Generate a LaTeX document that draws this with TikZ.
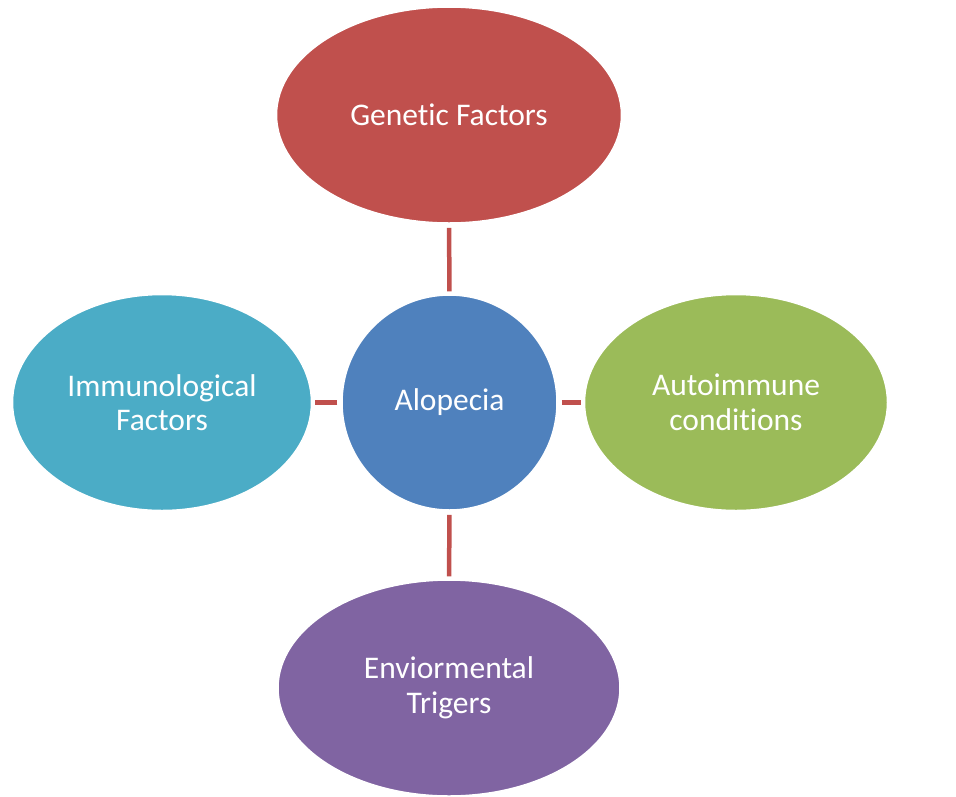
\documentclass[tikz,border=0pt]{standalone}
\usepackage{fontspec}
\setmainfont{Carlito}[Ligatures={NoCommon}]
\usetikzlibrary{shapes,positioning,calc}
\definecolor{genetic}{RGB}{192,80,77}
\definecolor{alopecia}{RGB}{79,129,189}
\definecolor{immuno}{RGB}{75,172,198}
\definecolor{autoimmune}{RGB}{155,187,89}
\definecolor{environ}{RGB}{128,100,162}

\begin{document}
\begin{tikzpicture}[
    x=1pt, y=-1pt,
    blob/.style={ellipse, draw=white, line width=1.5pt, text=white, inner sep=0pt,
                 align=center, font=\fontsize{31.5}{34.5}\selectfont},
    link/.style={draw=genetic, line width=4.5pt, shorten <=4pt, shorten >=3pt}
]
    \useasboundingbox (0,0) rectangle (956,796);

    % Center
    \node[blob, fill=alopecia, minimum width=215pt, minimum height=215pt] (center) at (449.5,402.5) {Alopecia};

    % Causes
    \node[blob, fill=genetic, minimum width=345pt, minimum height=216pt] (genetic) at (449,115) {Genetic Factors};
    \node[blob, fill=autoimmune, minimum width=303pt, minimum height=216pt] (autoimmune) at (736,402.5) {Autoimmune\\conditions};
    \node[blob, fill=environ, minimum width=342pt, minimum height=216pt] (environ) at (449,688) {Enviormental\\Trigers};
    \node[blob, fill=immuno, minimum width=299pt, minimum height=216pt] (immuno) at (162,402.5) {Immunological\\Factors};

    % Links
    \draw[link] (genetic) -- (center);
    \draw[link] (center) -- (autoimmune);
    \draw[link] (center) -- (environ);
    \draw[link] (center) -- (immuno);
\end{tikzpicture}
\end{document}
